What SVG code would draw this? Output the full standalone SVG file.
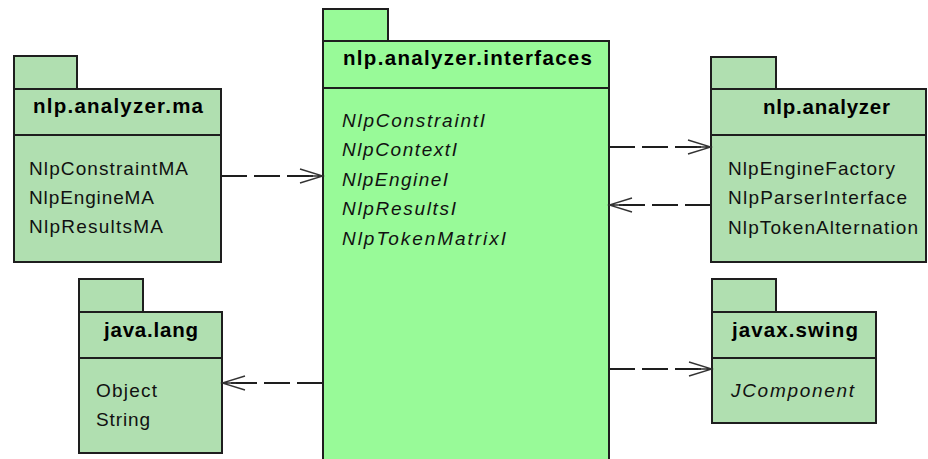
<svg xmlns="http://www.w3.org/2000/svg" width="928" height="459" viewBox="0 0 928 459">
  <defs>
    <style>
      .pkg { fill: #b0dfb0; stroke: #1e1e1e; stroke-width: 2; }
      .main { fill: #98fa98; stroke: #1e1e1e; stroke-width: 2; }
      .sep { stroke: #1e1e1e; stroke-width: 2; fill: none; }
      .title { font-family: "Liberation Sans", Arial, sans-serif; font-weight: bold; font-size: 20.5px; fill: #000; }
      .item { font-family: "Liberation Sans", Arial, sans-serif; font-size: 19px; fill: #111; }
      .iface { font-family: "Liberation Sans", Arial, sans-serif; font-style: italic; font-size: 19px; fill: #111; }
      .dep { stroke: #1e1e1e; stroke-width: 2; fill: none; stroke-dasharray: 26 7; }
      .head { stroke: #333; stroke-width: 1.4; fill: none; }
    </style>
    <marker id="open-arrow" markerUnits="userSpaceOnUse" markerWidth="26" markerHeight="18" viewBox="0 0 26 18" refX="24" refY="9" orient="auto">
      <path class="head" d="M1,2 L24,9 L1,16 M10,9 L24,9"/>
    </marker>
  </defs>

  <!-- nlp.analyzer.ma -->
  <g id="pkg-nlp-analyzer-ma">
    <rect class="pkg" x="14" y="56" width="63" height="33"/>
    <rect class="pkg" x="14" y="89" width="207" height="173"/>
    <line class="sep" x1="14" y1="135" x2="221" y2="135"/>
    <text class="title" x="33" y="113" textLength="170" lengthAdjust="spacing">nlp.analyzer.ma</text>
    <text class="item" x="29" y="174.5" textLength="159" lengthAdjust="spacing">NlpConstraintMA</text>
    <text class="item" x="29" y="204" textLength="125" lengthAdjust="spacing">NlpEngineMA</text>
    <text class="item" x="29" y="233" textLength="134" lengthAdjust="spacing">NlpResultsMA</text>
  </g>

  <!-- nlp.analyzer.interfaces -->
  <g id="pkg-nlp-analyzer-interfaces">
    <rect class="main" x="323" y="9" width="65" height="32"/>
    <rect class="main" x="323" y="41" width="286" height="430"/>
    <line class="sep" x1="323" y1="88" x2="609" y2="88"/>
    <text class="title" x="343" y="64.5" textLength="249" lengthAdjust="spacing">nlp.analyzer.interfaces</text>
    <text class="iface" x="342" y="126.5" textLength="143" lengthAdjust="spacing">NlpConstraintI</text>
    <text class="iface" x="342" y="156" textLength="115" lengthAdjust="spacing">NlpContextI</text>
    <text class="iface" x="342" y="185.5" textLength="106" lengthAdjust="spacing">NlpEngineI</text>
    <text class="iface" x="342" y="215" textLength="114" lengthAdjust="spacing">NlpResultsI</text>
    <text class="iface" x="342" y="244.5" textLength="164" lengthAdjust="spacing">NlpTokenMatrixI</text>
  </g>

  <!-- nlp.analyzer -->
  <g id="pkg-nlp-analyzer">
    <rect class="pkg" x="711" y="57" width="65" height="32"/>
    <rect class="pkg" x="711" y="89" width="215" height="173"/>
    <line class="sep" x1="711" y1="135" x2="926" y2="135"/>
    <text class="title" x="763" y="114" textLength="127" lengthAdjust="spacing">nlp.analyzer</text>
    <text class="item" x="728" y="174.5" textLength="167" lengthAdjust="spacing">NlpEngineFactory</text>
    <text class="item" x="728" y="204" textLength="179" lengthAdjust="spacing">NlpParserInterface</text>
    <text class="item" x="728" y="233.5" textLength="190" lengthAdjust="spacing">NlpTokenAlternation</text>
  </g>

  <!-- java.lang -->
  <g id="pkg-java-lang">
    <rect class="pkg" x="79" y="279" width="64" height="33"/>
    <rect class="pkg" x="79" y="312" width="143" height="141"/>
    <line class="sep" x1="79" y1="358" x2="222" y2="358"/>
    <text class="title" x="104" y="337" textLength="94" lengthAdjust="spacing">java.lang</text>
    <text class="item" x="96" y="396.5" textLength="61" lengthAdjust="spacing">Object</text>
    <text class="item" x="96" y="426" textLength="54" lengthAdjust="spacing">String</text>
  </g>

  <!-- javax.swing -->
  <g id="pkg-javax-swing">
    <rect class="pkg" x="712" y="279" width="64" height="33"/>
    <rect class="pkg" x="712" y="312" width="164" height="111"/>
    <line class="sep" x1="712" y1="358" x2="876" y2="358"/>
    <text class="title" x="732" y="337" textLength="126" lengthAdjust="spacing">javax.swing</text>
    <text class="iface" x="731" y="396.5" textLength="123" lengthAdjust="spacing">JComponent</text>
  </g>

  <!-- dependencies -->
  <g id="connectors">
    <path class="dep" d="M221,176 H323" marker-end="url(#open-arrow)"/>
    <path class="dep" d="M609,147 H711" marker-end="url(#open-arrow)"/>
    <path class="dep" d="M711,205 H609" marker-end="url(#open-arrow)"/>
    <path class="dep" d="M323,383 H222" marker-end="url(#open-arrow)"/>
    <path class="dep" d="M609,369 H712" marker-end="url(#open-arrow)"/>
  </g>
</svg>
